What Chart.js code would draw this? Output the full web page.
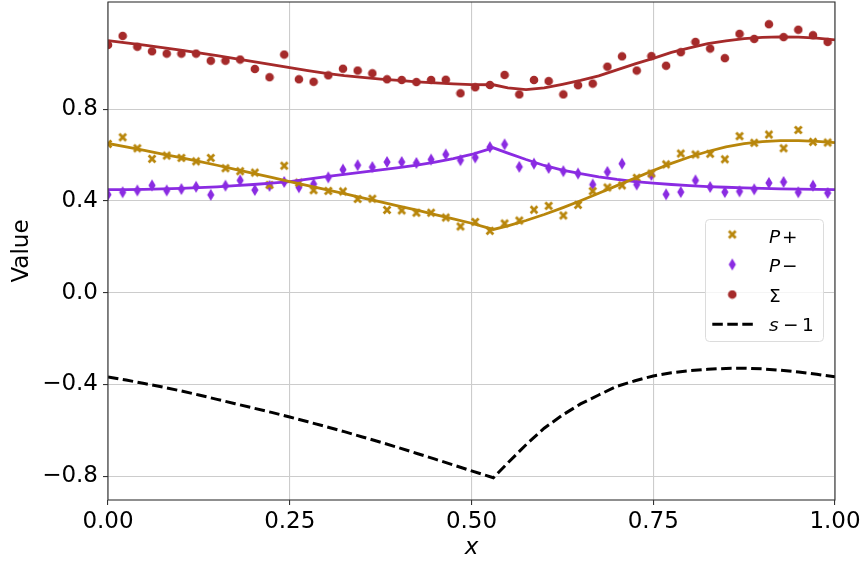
<!DOCTYPE html>
<html>
<head>
<meta charset="utf-8">
<script src="https://cdn.jsdelivr.net/npm/chart.js@4/dist/chart.umd.min.js"></script>
<style>
  html, body { margin: 0; padding: 0; background: #ffffff; }
  #wrap { width: 865px; height: 564px; position: relative; }
</style>
</head>
<body>
<div id="wrap"><canvas id="c" width="865" height="564"></canvas></div>
<script>
// Sample positions of the measured points
const sampleX = [0, 0.0202, 0.0404, 0.0606, 0.0808, 0.1010, 0.1212, 0.1414, 0.1616, 0.1818,
  0.2020, 0.2222, 0.2424, 0.2626, 0.2828, 0.3030, 0.3232, 0.3434, 0.3636, 0.3838,
  0.4040, 0.4242, 0.4444, 0.4646, 0.4848, 0.5051, 0.5253, 0.5455, 0.5657, 0.5859,
  0.6061, 0.6263, 0.6465, 0.6667, 0.6869, 0.7071, 0.7273, 0.7475, 0.7677, 0.7879,
  0.8081, 0.8283, 0.8485, 0.8687, 0.8889, 0.9091, 0.9293, 0.9495, 0.9697, 0.9899];

// Measured P+ values
const plusPts = [0.649, 0.678, 0.630, 0.584, 0.598, 0.588, 0.573, 0.588, 0.543, 0.530,
  0.524, 0.470, 0.554, 0.480, 0.447, 0.444, 0.442, 0.409, 0.410, 0.361,
  0.359, 0.349, 0.349, 0.328, 0.289, 0.309, 0.270, 0.302, 0.315, 0.362,
  0.379, 0.337, 0.383, 0.443, 0.459, 0.468, 0.501, 0.520, 0.560, 0.607,
  0.603, 0.606, 0.582, 0.683, 0.654, 0.690, 0.630, 0.710, 0.658, 0.655];

// Measured P- values
const minusPts = [0.428, 0.438, 0.446, 0.468, 0.446, 0.452, 0.462, 0.427, 0.467, 0.490,
  0.448, 0.466, 0.483, 0.460, 0.474, 0.503, 0.537, 0.556, 0.548, 0.570,
  0.570, 0.566, 0.581, 0.603, 0.578, 0.590, 0.635, 0.647, 0.549, 0.563,
  0.544, 0.530, 0.520, 0.472, 0.527, 0.563, 0.472, 0.513, 0.429, 0.439,
  0.490, 0.461, 0.439, 0.442, 0.451, 0.479, 0.483, 0.438, 0.467, 0.435];

// Measured totals
const sumPts = [1.081, 1.120, 1.073, 1.053, 1.043, 1.043, 1.043, 1.012, 1.012, 1.017,
  0.976, 0.940, 1.039, 0.931, 0.920, 0.948, 0.977, 0.969, 0.957, 0.931,
  0.928, 0.919, 0.928, 0.929, 0.870, 0.896, 0.906, 0.950, 0.865, 0.928,
  0.923, 0.865, 0.905, 0.912, 0.986, 1.031, 0.969, 1.032, 0.990, 1.049,
  1.094, 1.065, 1.023, 1.129, 1.107, 1.171, 1.115, 1.147, 1.123, 1.094];

// Positions of the model curves (kink at x = 0.53)
const curveX = [0, 0.025, 0.05, 0.075, 0.1, 0.125, 0.15, 0.175, 0.2, 0.225,
  0.25, 0.275, 0.3, 0.325, 0.35, 0.375, 0.4, 0.425, 0.45, 0.475, 0.5,
  0.53,
  0.55, 0.575, 0.6, 0.625, 0.65, 0.675, 0.7, 0.725, 0.75, 0.775,
  0.8, 0.825, 0.85, 0.875, 0.9, 0.925, 0.95, 0.975, 1];

const plusCurve = [0.651, 0.636, 0.621, 0.605, 0.589, 0.573, 0.556, 0.538, 0.521, 0.503,
  0.485, 0.467, 0.450, 0.432, 0.414, 0.396, 0.378, 0.360, 0.341, 0.322, 0.303,
  0.276,
  0.292, 0.315, 0.341, 0.370, 0.401, 0.434, 0.467, 0.500, 0.533, 0.564,
  0.592, 0.616, 0.636, 0.650, 0.659, 0.663, 0.663, 0.660, 0.655];

const minusCurve = [0.450, 0.450, 0.451, 0.453, 0.455, 0.458, 0.462, 0.467, 0.472, 0.478,
  0.485, 0.495, 0.506, 0.516, 0.526, 0.536, 0.546, 0.557, 0.570, 0.585, 0.603,
  0.632,
  0.609, 0.581, 0.555, 0.535, 0.519, 0.505, 0.494, 0.485, 0.478, 0.472,
  0.467, 0.463, 0.460, 0.457, 0.455, 0.453, 0.452, 0.451, 0.450];

const sumCurve = [1.100, 1.090, 1.080, 1.069, 1.058, 1.046, 1.034, 1.021, 1.008, 0.995,
  0.982, 0.969, 0.957, 0.947, 0.939, 0.932, 0.926, 0.920, 0.915, 0.911, 0.908,
  0.907,
  0.893, 0.886, 0.893, 0.909, 0.926, 0.946, 0.972, 0.998, 1.022, 1.048,
  1.068, 1.086, 1.098, 1.108, 1.114, 1.116, 1.115, 1.110, 1.103];

const sMinusOne = [-0.367, -0.381, -0.396, -0.411, -0.428, -0.446, -0.465, -0.484, -0.503, -0.522,
  -0.542, -0.563, -0.584, -0.606, -0.629, -0.652, -0.676, -0.701, -0.726, -0.751, -0.777,
  -0.807,
  -0.742, -0.663, -0.591, -0.534, -0.485, -0.446, -0.408, -0.384, -0.363, -0.349,
  -0.340, -0.334, -0.330, -0.329, -0.332, -0.338, -0.346, -0.356, -0.367];

const xTicks = [0, 0.25, 0.5, 0.75, 1];
const yTicks = [-0.8, -0.4, 0, 0.4, 0.8];

const GOLD = '#b8860b';
const VIOLET = '#8a2be2';
const BROWN = '#a52a2a';
const BLACK = '#000000';
const FONT = '"DejaVu Sans", "Liberation Sans", sans-serif';

const pairs = (xs, ys) => xs.map((x, i) => ({ x: x, y: ys[i] }));

// Marker glyphs
function crossMarker(color) {
  const c = document.createElement('canvas');
  c.width = 12; c.height = 12;
  const g = c.getContext('2d');
  g.strokeStyle = color; g.lineWidth = 2.8; g.lineCap = 'butt';
  g.beginPath();
  g.moveTo(2.6, 2.6); g.lineTo(9.4, 9.4);
  g.moveTo(9.4, 2.6); g.lineTo(2.6, 9.4);
  g.stroke();
  return c;
}
function diamondMarker(color) {
  const c = document.createElement('canvas');
  c.width = 10; c.height = 14;
  const g = c.getContext('2d');
  g.fillStyle = color;
  g.beginPath();
  g.moveTo(5, 1); g.lineTo(8.6, 7); g.lineTo(5, 13); g.lineTo(1.4, 7);
  g.closePath(); g.fill();
  return c;
}
function dotMarker(color) {
  const c = document.createElement('canvas');
  c.width = 10; c.height = 10;
  const g = c.getContext('2d');
  g.fillStyle = color;
  g.beginPath(); g.arc(5, 5, 4.3, 0, Math.PI * 2); g.fill();
  return c;
}

const mkPlus = crossMarker(GOLD);
const mkMinus = diamondMarker(VIOLET);
const mkSum = dotMarker(BROWN);

function curve(ys, color, dash, width) {
  return {
    data: pairs(curveX, ys), showLine: true, borderColor: color, borderWidth: width || 2.8,
    borderDash: dash || [], pointRadius: 0, pointHoverRadius: 0, tension: 0,
    order: 1, clip: 0, borderCapStyle: 'butt'
  };
}
function points(ys, style) {
  return {
    data: pairs(sampleX, ys), showLine: false, pointStyle: style, pointRadius: 5,
    pointHoverRadius: 5, order: 2, clip: 0
  };
}

// Frame around the plot and the key box
const frameAndKey = {
  id: 'frameAndKey',
  afterDatasetsDraw(chart) {
    const { ctx, chartArea: a } = chart;
    ctx.save();
    ctx.strokeStyle = '#333333';
    ctx.lineWidth = 1.1;
    ctx.strokeRect(a.left, a.top, a.right - a.left, a.bottom - a.top);
    ctx.restore();
  },
  afterDraw(chart) {
    const ctx = chart.ctx;
    ctx.save();
    // box
    const bx = 705.5, by = 219.5, bw = 118, bh = 122, r = 4;
    ctx.beginPath();
    ctx.moveTo(bx + r, by);
    ctx.arcTo(bx + bw, by, bx + bw, by + bh, r);
    ctx.arcTo(bx + bw, by + bh, bx, by + bh, r);
    ctx.arcTo(bx, by + bh, bx, by, r);
    ctx.arcTo(bx, by, bx + bw, by, r);
    ctx.closePath();
    ctx.fillStyle = 'rgba(255,255,255,0.8)';
    ctx.fill();
    ctx.strokeStyle = '#dcdcdc';
    ctx.lineWidth = 1;
    ctx.stroke();

    const mx = 732.3, tx = 769;
    const rows = [234.5, 264.5, 294.5, 324.3];
    ctx.drawImage(mkPlus, mx - mkPlus.width / 2, rows[0] - mkPlus.height / 2);
    ctx.drawImage(mkMinus, mx - mkMinus.width / 2, rows[1] - mkMinus.height / 2);
    ctx.drawImage(mkSum, mx - mkSum.width / 2, rows[2] - mkSum.height / 2);
    ctx.strokeStyle = BLACK; ctx.lineWidth = 3; ctx.setLineDash([10.5, 4.5]);
    ctx.beginPath(); ctx.moveTo(712.3, rows[3]); ctx.lineTo(753, rows[3]); ctx.stroke();
    ctx.setLineDash([]);

    ctx.fillStyle = BLACK;
    ctx.textBaseline = 'alphabetic';
    ctx.textAlign = 'left';
    const it = 'italic 18.5px ' + FONT, up = '18.5px ' + FONT;
    ctx.font = it; ctx.fillText('P', tx, rows[0] + 8.2);
    ctx.font = up; ctx.fillText('+', tx + 13, rows[0] + 8.2);
    ctx.font = it; ctx.fillText('P', tx, rows[1] + 7.5);
    ctx.font = up; ctx.fillText('\u2212', tx + 13, rows[1] + 7.5);
    ctx.font = up; ctx.fillText('\u03A3', tx, rows[2] + 7.5);
    ctx.font = it; ctx.fillText('s', tx, rows[3] + 6.5);
    ctx.font = up; ctx.fillText('\u2212', tx + 14, rows[3] + 6.5);
    ctx.fillText('1', tx + 33, rows[3] + 6.5);
    ctx.restore();
  }
};

new Chart(document.getElementById('c'), {
  type: 'scatter',
  data: {
    datasets: [
      points(plusPts, mkPlus),
      points(minusPts, mkMinus),
      points(sumPts, mkSum),
      curve(plusCurve, GOLD),
      curve(minusCurve, VIOLET),
      curve(sumCurve, BROWN),
      curve(sMinusOne, BLACK, [10.5, 4.5], 3)
    ]
  },
  options: {
    responsive: false,
    animation: false,
    devicePixelRatio: 1,
    layout: { autoPadding: false, padding: { left: 0, right: 30, top: 2, bottom: 0 } },
    plugins: { legend: { display: false }, tooltip: { enabled: false } },
    events: [],
    scales: {
      x: {
        type: 'linear', min: 0, max: 1,
        afterBuildTicks: s => { s.ticks = xTicks.map(v => ({ value: v })); },
        afterFit: s => { s.height = 64; s.paddingLeft = 0; s.paddingRight = 0; },
        grid: { color: '#cccccc', lineWidth: 1.1, tickColor: '#333333', tickLength: 5, tickWidth: 1.1 },
        border: { display: false },
        ticks: {
          color: '#000', padding: 3, maxRotation: 0, autoSkip: false,
          font: { family: FONT, size: 23 },
          callback: v => Number(v).toFixed(2)
        },
        title: {
          display: true, text: 'x', color: '#000',
          font: { family: FONT, size: 23, style: 'italic' },
          padding: { top: 0, bottom: 2 }
        }
      },
      y: {
        type: 'linear', min: -0.904, max: 1.268,
        afterBuildTicks: s => { s.ticks = yTicks.map(v => ({ value: v })); },
        afterFit: s => { s.width = 108; s.paddingTop = 0; s.paddingBottom = 0; },
        grid: { color: '#cccccc', lineWidth: 1.1, tickColor: '#333333', tickLength: 5, tickWidth: 1.1 },
        border: { display: false },
        ticks: {
          color: '#000', padding: 5, autoSkip: false,
          font: { family: FONT, size: 23 },
          callback: v => (Math.abs(v) < 1e-9 ? '0.0' : Number(v).toFixed(1).replace('-', '\u2212'))
        },
        title: {
          display: true, text: 'Value', color: '#000',
          font: { family: FONT, size: 23 },
          padding: { top: 8, bottom: 0 }
        }
      }
    }
  },
  plugins: [frameAndKey]
});
</script>
</body>
</html>
